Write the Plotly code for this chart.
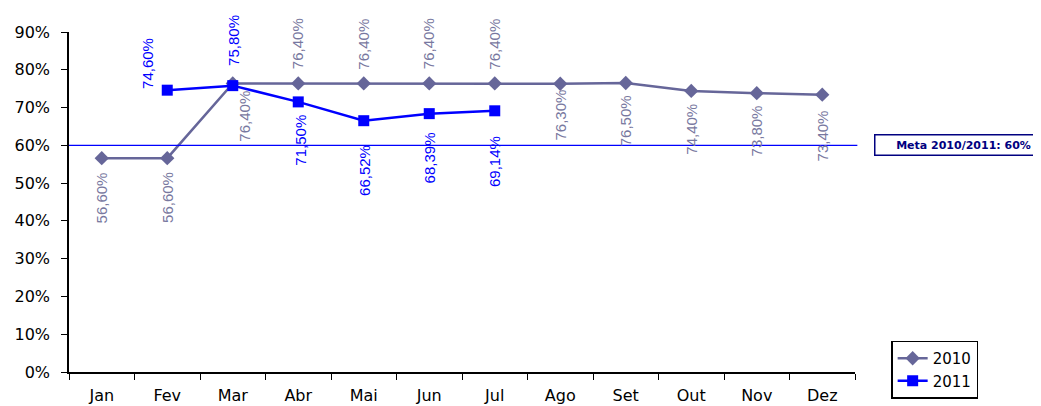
import plotly.graph_objects as go

months = ["Jan", "Fev", "Mar", "Abr", "Mai", "Jun", "Jul", "Ago", "Set", "Out", "Nov", "Dez"]
vals_2010 = [56.6, 56.6, 76.4, 76.4, 76.4, 76.4, 76.4, 76.3, 76.5, 74.4, 73.8, 73.4]
months_2011 = ["Fev", "Mar", "Abr", "Mai", "Jun", "Jul"]
vals_2011 = [74.6, 75.8, 71.5, 66.52, 68.39, 69.14]
meta_value = 60
meta_text = "Meta 2010/2011: 60%"
y_ticks = [0, 10, 20, 30, 40, 50, 60, 70, 80, 90]

# label placement styles (side, gap px, xshift px)
place_2010 = [("below", 13, 0), ("below", 13, 0), ("below", 6, 12), ("above", 13, 0),
              ("above", 13, 0), ("above", 13, 0), ("above", 13, 0), ("below", 5, 0),
              ("below", 11, 0), ("below", 12, 0), ("below", 11, 0), ("below", 15, 0)]
place_2011 = [("above", 0, -20), ("above", 19, 0), ("below", 12, 2),
              ("below", 23, 0), ("below", 18, 0), ("below", 24, 0)]

C2010 = "#666699"
C2010_LBL = "#7878A0"
C2011 = "#0000FF"
TICKFONT = dict(family="DejaVu Sans", size=16, color="#000000")

fig = go.Figure()
fig.add_trace(go.Scatter(x=months, y=vals_2010, mode="lines+markers", name="2010",
                         line=dict(color=C2010, width=2.5),
                         marker=dict(symbol="diamond", size=11, color=C2010)))
fig.add_trace(go.Scatter(x=months_2011, y=vals_2011, mode="lines+markers", name="2011",
                         line=dict(color=C2011, width=2.5),
                         marker=dict(symbol="square", size=11, color=C2011)))

def fmt(v):
    return f"{v:.2f}".replace(".", ",") + "%"

annotations = []
for xs, ys, places, col in [(months, vals_2010, place_2010, C2010_LBL),
                            (months_2011, vals_2011, place_2011, C2011)]:
    for x, y, (side, gap, xs_) in zip(xs, ys, places):
        annotations.append(dict(
            x=x, y=y, xref="x", yref="y", text=fmt(y), showarrow=False,
            textangle=-90, font=dict(family="Liberation Sans", size=15, color=col),
            yanchor="top" if side == "below" else "bottom",
            yshift=-gap if side == "below" else gap, xshift=xs_, borderpad=0))

annotations.append(dict(
    x=1.0242, xref="paper", y=meta_value, yref="y", xanchor="left", yanchor="middle",
    text="<b>" + meta_text + "</b>", showarrow=False, width=174, height=17,
    font=dict(family="DejaVu Sans", size=11, color="#000080"),
    bordercolor="#000080", borderwidth=1.5, borderpad=1, bgcolor="white"))

# the page body has an 8px margin, so the figure is sized/offset to compensate
fig.update_layout(
    width=1033, height=398,
    margin=dict(l=61, r=186, t=24, b=34, autoexpand=False),
    paper_bgcolor="white", plot_bgcolor="white",
    showlegend=True,
    legend=dict(x=1.046, xanchor="left", y=-0.078, yanchor="bottom",
                bordercolor="#000000", borderwidth=1.5, bgcolor="white",
                font=dict(family="DejaVu Sans", size=15, color="#000000"),
                tracegroupgap=2, itemwidth=30,
                entrywidth=50, entrywidthmode="pixels"),
    annotations=annotations,
    shapes=[dict(type="line", xref="paper", x0=0, x1=1.003, yref="y",
                 y0=meta_value, y1=meta_value, line=dict(color=C2011, width=1.2))],
)
fig.update_xaxes(type="category", categoryorder="array", categoryarray=months,
                 range=[-0.5, 11.5], showgrid=False, showline=True, linecolor="#000000",
                 linewidth=1.5, ticks="outside", tickson="boundaries", ticklen=6,
                 tickcolor="#000000", tickfont=TICKFONT, ticklabelstandoff=8,
                 automargin=False)
fig.update_yaxes(range=[0, 90], tickvals=y_ticks, ticktext=[f"{t}%" for t in y_ticks],
                 showgrid=False, zeroline=False, showline=True, linecolor="#000000",
                 linewidth=1.5, ticks="outside", ticklen=6, tickcolor="#000000",
                 tickfont=TICKFONT, ticklabelstandoff=8, automargin=False)

fig.write_html("out.html")
